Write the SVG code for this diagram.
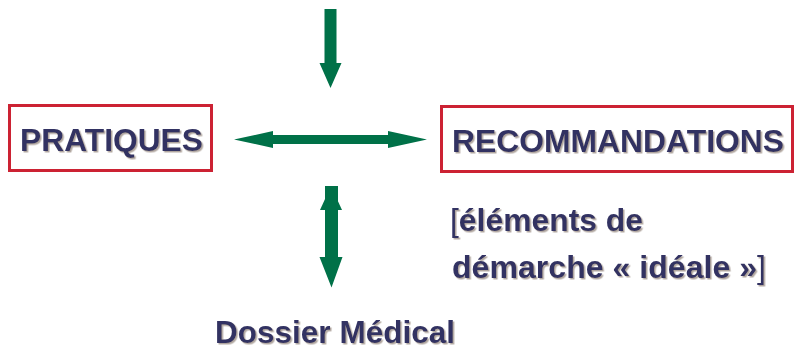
<svg xmlns="http://www.w3.org/2000/svg" width="799" height="351" viewBox="0 0 799 351">
<defs>
<filter id="sh" x="-5%" y="-20%" width="110%" height="140%">
<feDropShadow dx="1.5" dy="1.5" stdDeviation="0.4" flood-color="#a89c94" flood-opacity="0.9"/>
</filter>
</defs>
<style>
.t{font-family:"Liberation Sans",Arial,sans-serif;font-weight:bold;fill:#333362;filter:url(#sh);font-size:31px}
.br{font-weight:normal}
.box{fill:#fff;stroke:#cc2233;stroke-width:3}
.ar{fill:#007148}
</style>
<rect width="799" height="351" fill="#fff"/>
<g id="connectors">
<polygon class="ar" points="324.5,9 336.5,9 336.5,63 341.5,63 330.5,88 319.5,63 324.5,63"/>
<polygon class="ar" points="234,139.5 273,131 273,135 388,135 388,131 427,139.5 388,148 388,144 273,144 273,148"/>
<polygon class="ar" points="325,186 338,186 338,257 342.5,257 331.5,287.5 319.5,257 325,257"/>
<polygon class="ar" points="331,186 342,210 320,210"/>
</g>
<g id="pratiques">
<rect class="box" x="9.5" y="105.5" width="202" height="65"/>
<text class="t" x="20" y="151" textLength="183" lengthAdjust="spacingAndGlyphs">PRATIQUES</text>
</g>
<g id="recommandations">
<rect class="box" x="441.5" y="106.5" width="351" height="65"/>
<text class="t" x="452" y="152" textLength="332" lengthAdjust="spacingAndGlyphs">RECOMMANDATIONS</text>
</g>
<g id="elements">
<text class="t" x="450" y="231" textLength="193" lengthAdjust="spacingAndGlyphs"><tspan class="br">[</tspan>éléments de</text>
<text class="t" x="452" y="278" textLength="314" lengthAdjust="spacingAndGlyphs">démarche « idéale »<tspan class="br">]</tspan></text>
</g>
<g id="dossier">
<text class="t" x="215" y="343" textLength="240" lengthAdjust="spacingAndGlyphs">Dossier Médical</text>
</g>
</svg>
